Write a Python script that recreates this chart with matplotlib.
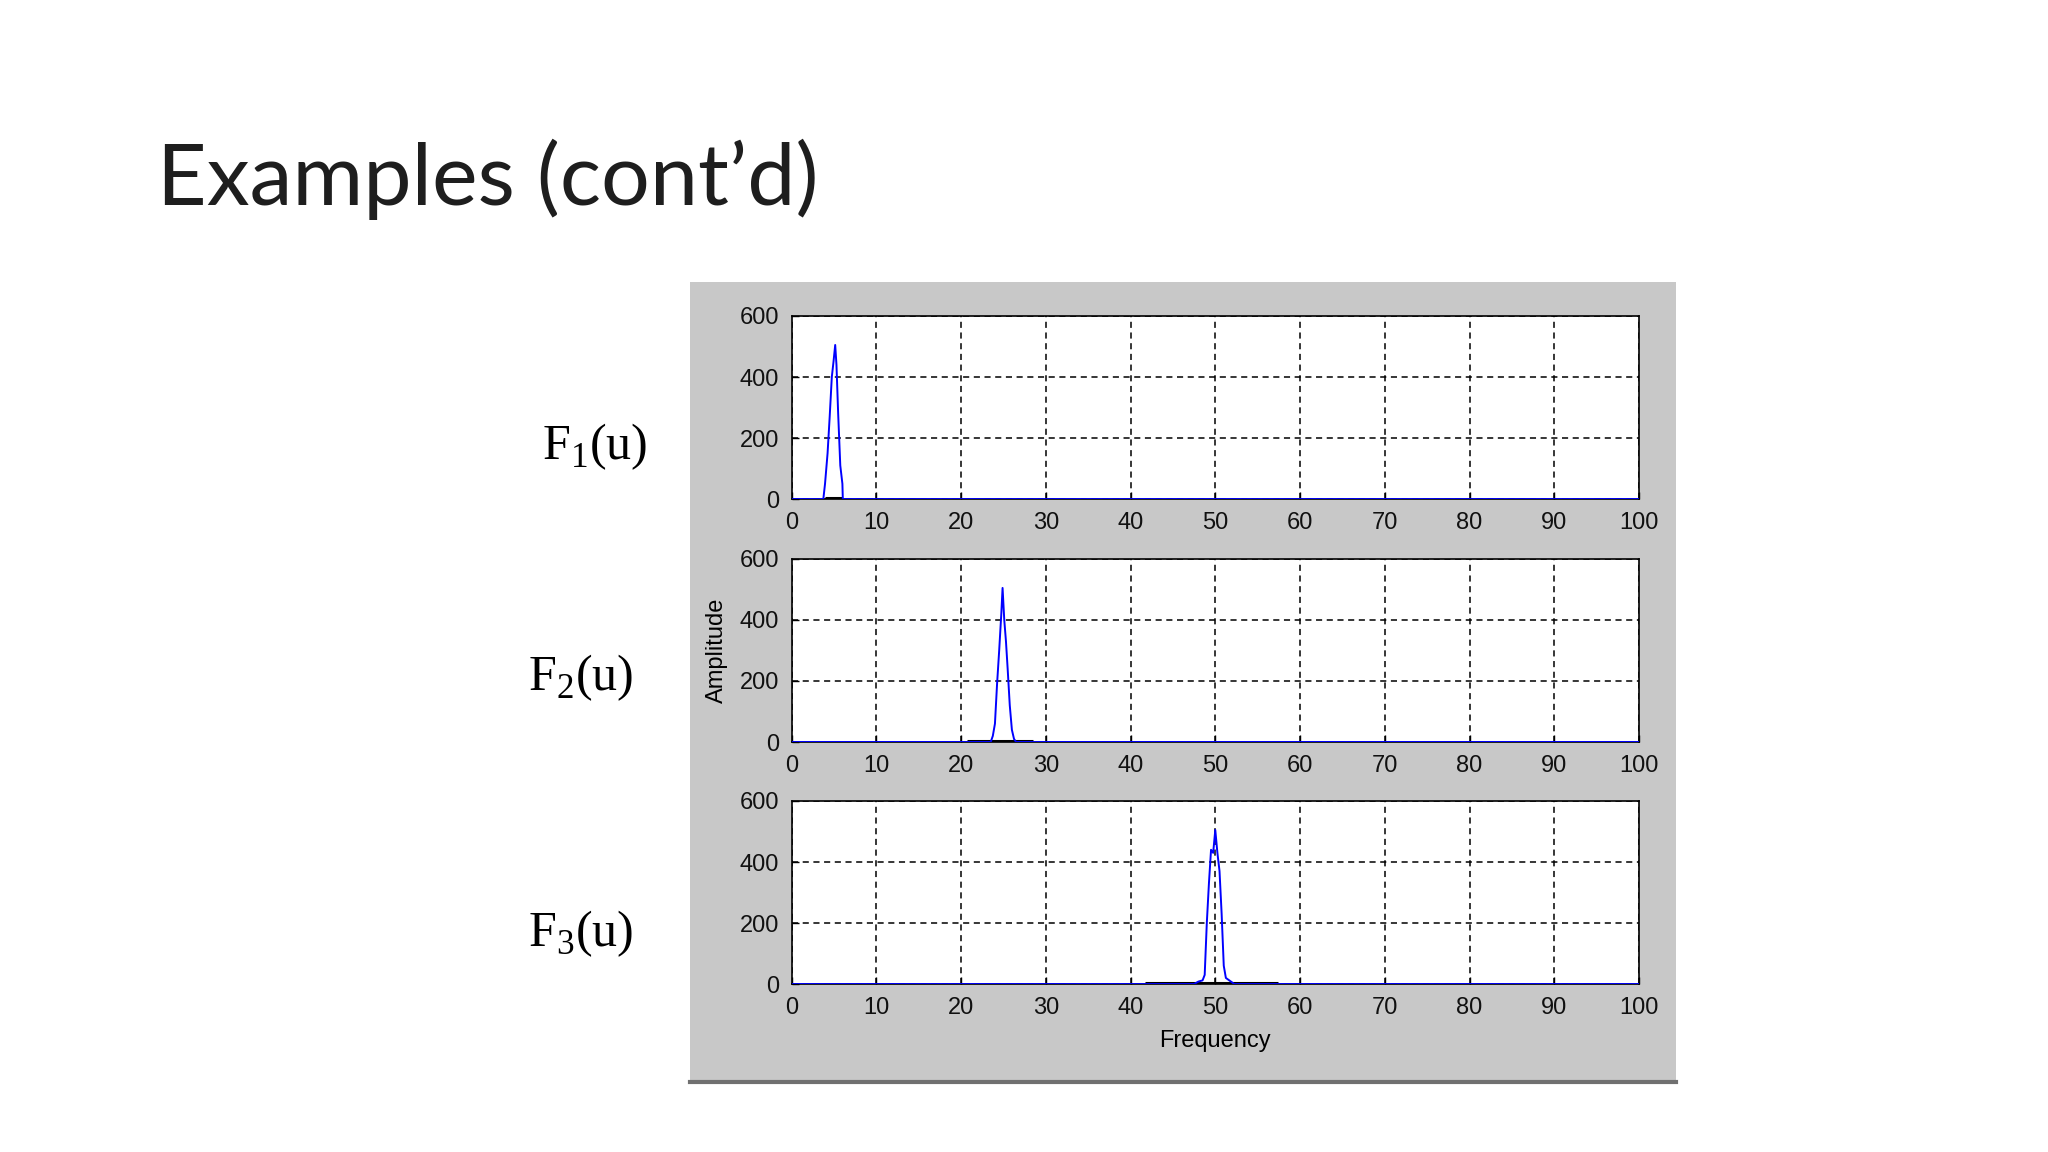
import matplotlib
matplotlib.use("Agg")
from matplotlib import pyplot as plt
from matplotlib.patches import Rectangle
from matplotlib.lines import Line2D

plt.rcParams['mathtext.fontset'] = 'custom'
plt.rcParams['mathtext.rm'] = 'Liberation Serif'

# spectrum samples (blue = magnitude, black = small residue near baseline)
f1_x = [0, 3.75, 3.95, 4.25, 4.5, 4.75, 4.95, 5.15, 5.3, 5.5, 5.75, 6.0, 6.05, 100]
f1_y = [0, 0, 50, 150, 270, 400, 450, 505, 440, 280, 110, 50, 0, 0]
f1_bx = [4.0, 5.9]
f1_by = [2, 2]

f2_x = [0, 23.5, 23.75, 24.0, 24.25, 24.5, 24.75, 24.9, 25.1, 25.3, 25.5, 25.75, 26.0, 26.25, 26.5, 100]
f2_y = [0, 0, 20, 60, 190, 300, 420, 505, 400, 330, 240, 120, 40, 10, 0, 0]
f2_bx = [20.7, 28.5]
f2_by = [4, 4]

f3_x = [0, 47.5, 48.0, 48.5, 48.75, 49.0, 49.25, 49.5, 49.75, 50.0, 50.25, 50.5, 50.75, 51.0, 51.25, 51.75, 52.25, 100]
f3_y = [0, 0, 8, 12, 30, 200, 330, 440, 430, 505, 430, 370, 230, 60, 20, 10, 0, 0]
f3_bx = [41.7, 57.4]
f3_by = [4, 4]

x_ticks = [0, 10, 20, 30, 40, 50, 60, 70, 80, 90, 100]
y_ticks = [0, 200, 400, 600]
labels = ['F$_\\mathrm{1}$(u)', 'F$_\\mathrm{2}$(u)', 'F$_\\mathrm{3}$(u)']

fig = plt.figure(figsize=(20.48, 11.52), dpi=100)
fig.patch.set_facecolor('white')

# grey matlab figure panel, kept behind the axes
fig.patches.append(Rectangle((0.3369, 0.0608), 0.4814, 0.6944, transform=fig.transFigure,
                             facecolor='#c8c8c8', edgecolor='none', zorder=-10))
fig.lines.append(Line2D([0.3369, 0.8183], [0.0608, 0.0608], transform=fig.transFigure,
                        color='#707070', lw=3, zorder=-9))

fig.text(0.0767, 0.822, 'Examples (cont\u2019d)', fontsize=62, family=['Lato', 'DejaVu Sans'],
         va='baseline', ha='left', color='#1e1e1e')

bottoms = [0.5668, 0.3559, 0.1458]
series = [(f1_x, f1_y, f1_bx, f1_by), (f2_x, f2_y, f2_bx, f2_by), (f3_x, f3_y, f3_bx, f3_by)]
label_pos = [(0.2646, 0.601), (0.2578, 0.401), (0.2578, 0.179)]

for i in range(3):
    ax = fig.add_axes([0.3865, bottoms[i], 0.4138, 0.1589])
    bx, by = series[i][2], series[i][3]
    ax.plot(bx, by, color='black', lw=2.2, solid_capstyle='butt', zorder=2)
    ax.plot(series[i][0], series[i][1], color='#0000ff', lw=1.4, zorder=3)
    ax.set_xlim(0, 100)
    ax.set_ylim(0, 600)
    ax.set_xticks(x_ticks)
    ax.set_yticks(y_ticks)
    ax.grid(True, color='black', linestyle=(0, (4, 3)), lw=1.1)
    ax.tick_params(direction='in', length=5, width=1, labelsize=17, pad=9)
    for lab in ax.get_xticklabels() + ax.get_yticklabels():
        lab.set_family('Liberation Sans')
        lab.set_color('#111111')
    for sp in ax.spines.values():
        sp.set_linewidth(1.2)
    if i == 1:
        ax.set_ylabel('Amplitude', fontsize=17, family='Liberation Sans', labelpad=8)
    if i == 2:
        ax.set_xlabel('Frequency', fontsize=17, family='Liberation Sans', labelpad=8)
    fig.text(label_pos[i][0], label_pos[i][1], labels[i], fontsize=36,
             family='Liberation Serif', va='baseline', ha='left')

fig.savefig('out.png', dpi=100)
